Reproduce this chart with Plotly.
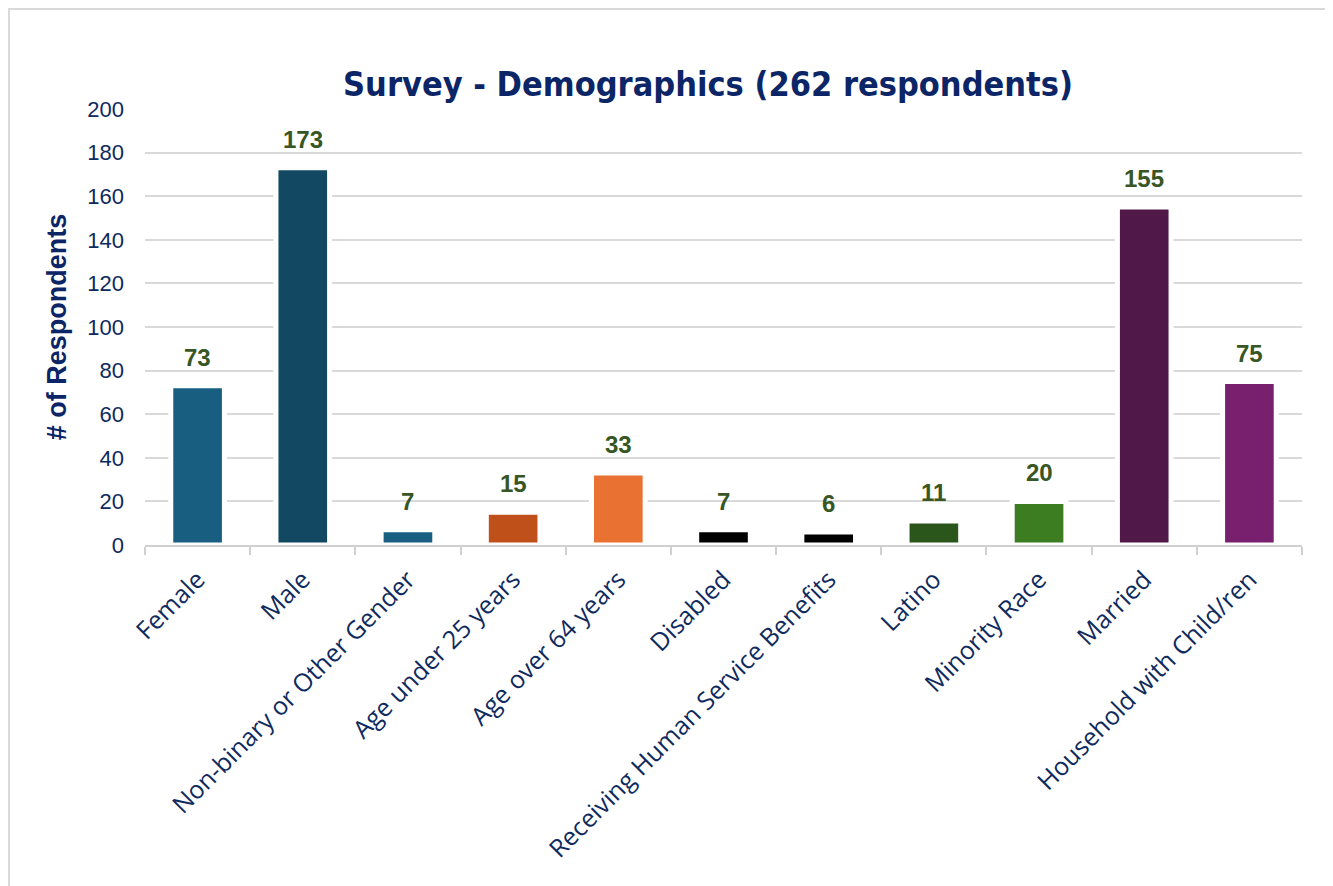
import plotly.graph_objects as go

categories = ["Female", "Male", "Non-binary or Other Gender", "Age under 25 years",
              "Age over 64 years", "Disabled", "Receiving Human Service Benefits",
              "Latino", "Minority Race", "Married", "Household with Child/ren"]
respondents = [73, 173, 7, 15, 33, 7, 6, 11, 20, 155, 75]
bar_colors = ["#175E80", "#124862", "#175E80", "#C0501A", "#E97132", "#000000",
              "#000000", "#2A561C", "#3C7D22", "#501848", "#78206E"]
y_ticks = [0, 20, 40, 60, 80, 100, 120, 140, 160, 180, 200]

OFF = 8  # page body margin
W, H = 1333 - OFF, 886 - OFF
L, T = 145 - OFF, 109 - OFF
R = W - (1302 - OFF)
B = H - (545 - OFF)
pw, ph = W - L - R, H - T - B

fig = go.Figure()
fig.add_trace(go.Bar(
    x=categories, y=respondents,
    marker=dict(color=bar_colors, line=dict(color="white", width=5)),
    hoverinfo="x+y",
))

for c, v in zip(categories, respondents):
    fig.add_annotation(x=c, y=v, text=f"<b>{v}</b>", showarrow=False,
                       yanchor="bottom", yshift=13,
                       font=dict(family="Liberation Sans, Arial", size=24, color="#375623"))

def fx(p):  # figure pixel -> paper x
    return (p - L) / pw

def fy(p):  # figure pixel -> paper y
    return (H - B - p) / ph

fig.add_shape(type="rect", xref="paper", yref="paper",
              x0=fx(1), x1=fx(1331 - OFF), y0=fy(H + 10), y1=fy(1),
              line=dict(color="#D9D9D9", width=2), fillcolor="rgba(0,0,0,0)", layer="below")

fig.update_layout(
    width=W, height=H,
    margin=dict(l=L, r=R, t=T, b=B, autoexpand=False),
    paper_bgcolor="white", plot_bgcolor="white",
    bargap=0.49,
    showlegend=False,
    title=dict(text="<b>Survey - Demographics (262 respondents)</b>",
               x=(708 - OFF) / W, xref="container", xanchor="center",
               y=1 - (84 - OFF) / H, yref="container", yanchor="middle",
               font=dict(family="DejaVu Sans Condensed, Liberation Sans Narrow, Liberation Sans",
                         size=34, color="#0B2566")),
    xaxis=dict(
        type="category",
        tickangle=-45,
        tickfont=dict(family="Open Sans, Noto Sans", size=25, color="#0E2A5E"),
        showline=True, linecolor="#D0D0D0", linewidth=2,
        ticks="outside", tickson="boundaries", ticklen=8, tickcolor="#D0D0D0", tickwidth=2,
        showgrid=False,
        ticklabelstandoff=8,
    ),
    yaxis=dict(
        range=[0, 200],
        tickvals=y_ticks,
        tickfont=dict(family="Liberation Sans, Arial", size=22, color="#0E2A5E"),
        showgrid=True, gridcolor="#D9D9D9", gridwidth=2,
        zeroline=False, showline=False, ticks="",
        ticklabelstandoff=20,
        title=dict(text="<b># of Respondents</b>", standoff=12,
                   font=dict(family="Liberation Sans, Arial", size=27, color="#0B2566")),
    ),
)

fig.write_html("out.html")
